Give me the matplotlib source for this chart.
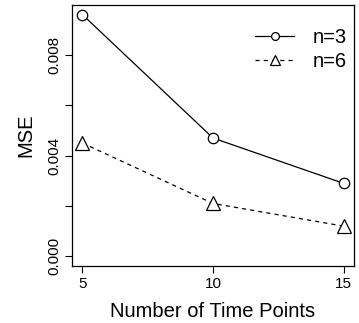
import numpy as np
import matplotlib
matplotlib.use("Agg")
import matplotlib.pyplot as plt

plt.rcParams['font.family'] = ['Liberation Sans', 'DejaVu Sans']

# MSE by number of time points
time_points = [5, 10, 15]
mse_n3 = [0.0096, 0.0047, 0.0029]
mse_n6 = [0.0045, 0.0021, 0.0012]
y_ticks = [0.000, 0.002, 0.004, 0.006, 0.008]
y_labels = ["0.000", "", "0.004", "", "0.008"]

fig = plt.figure(figsize=(3.59, 3.23), dpi=100)
ax = fig.add_axes([0.2006, 0.1765, 0.7854, 0.808])

ax.plot(time_points, mse_n3, color="black", lw=0.9, ls="-", marker="o",
        ms=7.5, mfc="white", mec="black", mew=0.9, label="n=3")
ax.plot(time_points, mse_n6, color="black", lw=0.9, ls=(0, (3.3, 3.3)),
        marker="^", ms=9.5, mfc="white", mec="black", mew=0.9, label="n=6")

# R-style 4% padding around the data range
ax.set_xlim(4.6, 15.4)
ax.set_ylim(-0.000384, 0.009984)
ax.set_xticks(time_points)
ax.set_yticks(y_ticks)
ax.set_yticklabels(y_labels, rotation=90, va="center")
ax.tick_params(axis="both", direction="out", length=5, width=0.8, labelsize=11,
               pad=3)

for s in ax.spines.values():
    s.set_linewidth(0.9)

ax.set_xlabel("Number of Time Points", fontsize=14.5, labelpad=8)
ax.set_ylabel("MSE", fontsize=14.5, labelpad=8)

ax.legend(loc="upper right", bbox_to_anchor=(1.0, 0.94), frameon=False,
          fontsize=14.5, handlelength=1.9, handletextpad=0.95,
          borderpad=0.2, borderaxespad=0.15, labelspacing=0.25,
          markerscale=0.75)

fig.savefig("out.png", dpi=100)
